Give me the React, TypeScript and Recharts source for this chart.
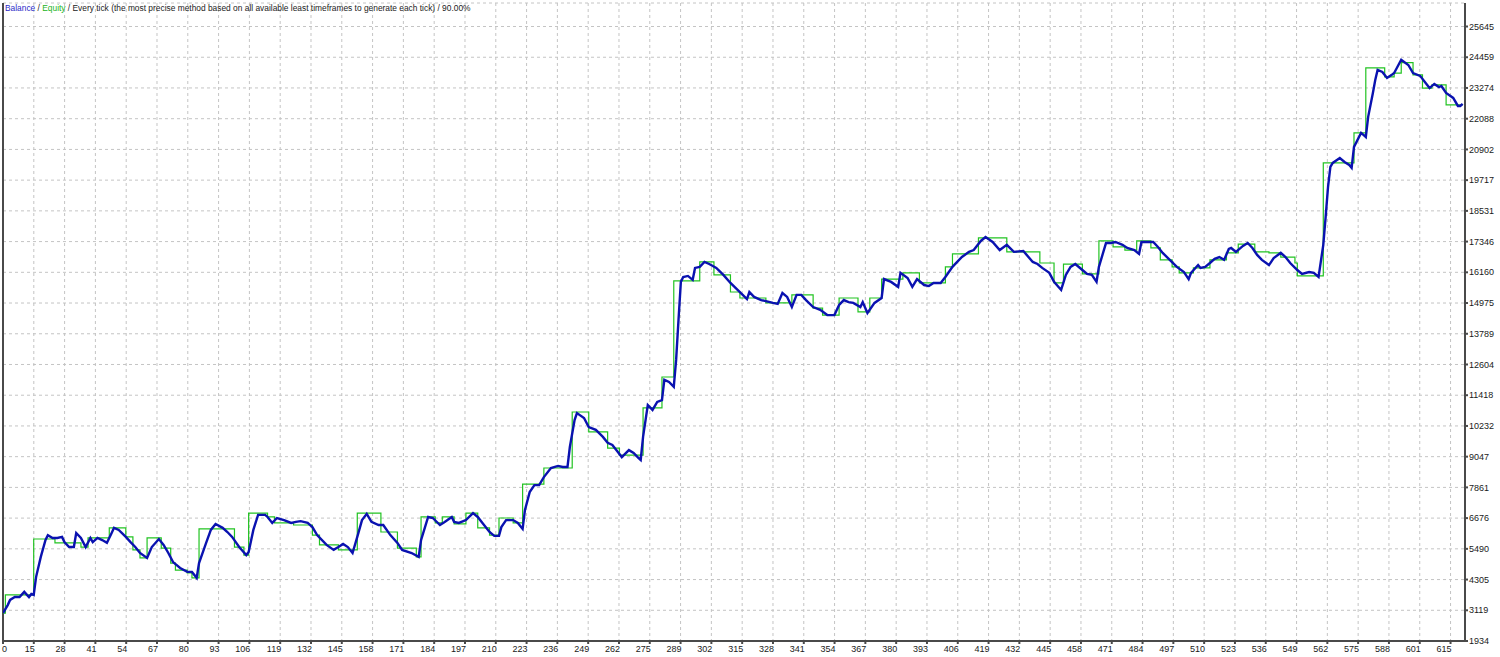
import { CartesianGrid, Line, LineChart, ReferenceLine, XAxis, YAxis } from 'recharts';

// blue line (Balance) per trade
const balanceTrades = [
  0, 2, 3, 5, 7, 9, 11, 12, 13, 14, 16, 18, 19, 21, 23, 25, 26, 28, 30, 31, 33, 35, 37, 38, 40, 42, 44, 46, 47, 49,
  52, 54, 56, 58, 61, 63, 66, 68, 70, 72, 75, 78, 80, 82, 83, 86, 88, 90, 93, 95, 97, 100, 103, 104, 106, 108, 111,
  112, 114, 116, 119, 122, 124, 126, 129, 131, 133, 137, 140, 142, 144, 146, 148, 150, 152, 154, 156, 159, 161, 164,
  167, 169, 173, 176, 177, 180, 182, 185, 187, 190, 191, 193, 196, 199, 201, 203, 206, 208, 210, 211, 213, 216, 218,
  219, 220, 221, 223, 225, 227, 229, 232, 235, 237, 239, 240, 242, 243, 246, 248, 251, 254, 256, 258, 260, 262, 265,
  267, 269, 270, 271, 273, 275, 277, 279, 280, 282, 284, 285, 286, 287, 288, 290, 292, 293, 295, 297, 299, 302, 305,
  308, 312, 315, 316, 318, 321, 323, 326, 328, 330, 332, 334, 336, 338, 340, 343, 346, 349, 352, 354, 356, 358, 360,
  363, 364, 366, 369, 372, 373, 376, 379, 380, 383, 385, 387, 390, 392, 394, 397, 399, 402, 404, 406, 409, 411, 414,
  416, 419, 422, 425, 428, 432, 436, 438, 440, 443, 445, 448, 450, 452, 454, 457, 459, 461, 463, 464, 467, 469, 471,
  474, 476, 479, 481, 482, 487, 489, 491, 494, 497, 500, 502, 503, 506, 507, 509, 511, 513, 515, 517, 519, 520, 522,
  525, 527, 529, 531, 533, 536, 538, 541, 543, 545, 548, 550, 553, 555, 557, 559, 560, 561, 562, 563, 566, 568, 570,
  571, 572, 575, 576, 577, 578, 580, 581, 582, 584, 586, 588, 589, 592, 595, 597, 600, 603, 604, 606, 608, 609, 611,
  614, 616, 617, 618,
];
const balanceValues = [
  3010, 3320, 3520, 3630, 3630, 3830, 3630, 3750, 3710, 4400, 5180, 5830, 6020, 5910, 5910, 5950, 5750, 5560, 5560,
  6100, 5910, 5560, 5910, 5750, 5910, 5830, 5720, 6100, 6300, 6220, 5950, 5750, 5560, 5330, 5140, 5560, 5870, 5640,
  5330, 4980, 4750, 4600, 4600, 4370, 4940, 5720, 6220, 6450, 6300, 6140, 5950, 5560, 5250, 5370, 6220, 6800, 6800,
  6720, 6490, 6680, 6600, 6490, 6530, 6560, 6490, 6330, 6020, 5640, 5450, 5560, 5680, 5560, 5330, 5950, 6600, 6840,
  6530, 6410, 6410, 6020, 5720, 5450, 5330, 5180, 5830, 6720, 6680, 6410, 6530, 6720, 6530, 6490, 6600, 6870, 6720,
  6490, 6140, 5990, 5990, 6330, 6600, 6600, 6490, 6370, 6260, 6990, 7680, 7950, 7950, 8260, 8610, 8690, 8650, 8650,
  9420, 10460, 10730, 10540, 10190, 10080, 9810, 9580, 9500, 9270, 9030, 9300, 9190, 9000, 8920, 9810, 11040, 10850,
  11160, 11230, 12010, 11930, 11740, 12780, 14320, 15790, 15980, 16020, 15870, 16330, 16370, 16560, 16480, 16330,
  16060, 15750, 15400, 15130, 15400, 15210, 15090, 15050, 14980, 14940, 15360, 15210, 14820, 15290, 15290, 15090,
  14820, 14710, 14510, 14510, 14900, 15090, 15010, 14980, 14820, 15010, 14590, 14980, 15170, 15900, 15790, 15600,
  16140, 15940, 15600, 15900, 15670, 15630, 15750, 15750, 15980, 16370, 16560, 16750, 16950, 17020, 17370, 17520,
  17330, 17020, 17220, 16950, 16980, 16560, 16480, 16330, 16140, 15790, 15480, 16060, 16370, 16480, 16250, 16100,
  16060, 15790, 16370, 17290, 17290, 17330, 17220, 17100, 17020, 16870, 17330, 17330, 17140, 16910, 16640, 16370,
  16170, 15900, 16140, 16440, 16330, 16370, 16520, 16680, 16750, 16640, 17060, 17100, 16950, 17180, 17290, 17100,
  16830, 16640, 16440, 16710, 16910, 16750, 16520, 16250, 16100, 16170, 16140, 15980, 17220, 18300, 19450, 20230,
  20380, 20570, 20420, 20300, 20190, 21000, 21540, 21460, 21380, 22160, 23080, 23580, 23970, 23890, 23660, 23780,
  23850, 24360, 24160, 23850, 23740, 23390, 23270, 23430, 23310, 23350, 23080, 22890, 22580, 22580, 22660,
];

// green stepped line (Equity)
const equityTrades = [
  0, 1, 13, 22, 33, 36, 45, 52, 55, 58, 61, 67, 71, 73, 78, 80, 83, 98, 102, 104, 112, 115, 123, 131, 134, 142, 150,
  160, 167, 175, 177, 183, 186, 191, 196, 201, 206, 210, 216, 220, 229, 241, 248, 256, 261, 271, 279, 284, 295, 301,
  308, 312, 323, 334, 343, 347, 354, 362, 367, 372, 381, 388, 399, 402, 413, 425, 439, 445, 449, 457, 464, 470, 475,
  480, 486, 490, 495, 498, 504, 511, 518, 523, 530, 536, 541, 547, 548, 559, 572, 577, 585, 589, 592, 597, 601, 605,
  611, 618,
];
const equityValues = [
  3010, 3710, 5870, 5720, 5560, 5910, 6300, 5950, 5450, 5140, 5910, 5520, 4940, 4670, 4560, 4370, 6260, 5560, 5250,
  6870, 6720, 6490, 6410, 6020, 5640, 5450, 6870, 6140, 5520, 5180, 6720, 6490, 6720, 6450, 6870, 6300, 6020, 6680,
  6490, 7990, 8610, 10770, 10000, 9380, 9110, 10930, 12120, 15830, 16560, 16060, 15400, 15170, 14980, 15290, 14780,
  14510, 15170, 14630, 15170, 15900, 16140, 15750, 16370, 16870, 17490, 16950, 16520, 15750, 16480, 16100, 17370,
  17140, 17020, 17370, 17100, 16640, 16370, 16140, 16330, 16640, 16910, 17250, 16950, 16910, 16750, 16520, 16020,
  20380, 21540, 24050, 23700, 23850, 24250, 23780, 23270, 23390, 22620, 22620,
];

const xTickLabels = [
  '0', '15', '28', '41', '54', '67', '80', '93', '106', '119', '132', '145', '158', '171', '184', '197', '210', '223',
  '236', '249', '262', '275', '289', '302', '315', '328', '341', '354', '367', '380', '393', '406', '419', '432', '445',
  '458', '471', '484', '497', '510', '523', '536', '549', '562', '575', '588', '601', '615',
];
const yTickLabels = [
  1934, 3119, 4305, 5490, 6676, 7861, 9047, 10232, 11418, 12604, 13789, 14975, 16160, 17346, 18531, 19717, 20902,
  22088, 23274, 24459, 25645,
];

const X_STEP = 13.04;
const X_MAX = 619;
const Y_MIN = 1934;
const Y_MAX = 26552;
const FONT = '"Liberation Sans", Arial, sans-serif';
const AXIS = '#4a4a4a';

const balanceData = balanceTrades.map((t, i) => ({ t, v: balanceValues[i] }));
const equityData = equityTrades.map((t, i) => ({ t, v: equityValues[i] }));
const xTicks = xTickLabels.map((_, k) => k * X_STEP);

const XTick = (props: any) => {
  const { x, y, payload } = props;
  const k = Math.round(payload.value / X_STEP);
  const first = k === 0;
  return (
    <text
      x={first ? x - 1 : x + 1}
      y={y + 8}
      textAnchor={first ? 'start' : 'end'}
      fontFamily={FONT}
      fontSize={9}
      fill="#1a1a1a"
    >
      {xTickLabels[k]}
    </text>
  );
};

const YTick = (props: any) => {
  const { x, y, payload } = props;
  return (
    <text x={x} y={y} dy="0.35em" textAnchor="start" fontFamily={FONT} fontSize={9} fill="#1a1a1a">
      {payload.value}
    </text>
  );
};

export default function App() {
  return (
    <div style={{ position: 'absolute', left: 0, top: 0, width: 1500, height: 657, background: '#fff' }}>
      <LineChart width={1500} height={657} margin={{ top: 3, right: 0, bottom: 0, left: 3 }}>
        <CartesianGrid stroke="#c4c4c4" strokeDasharray="3 3" />
        <XAxis
          type="number"
          dataKey="t"
          domain={[0, X_MAX]}
          ticks={xTicks}
          interval={0}
          height={16}
          tickSize={3}
          tickMargin={0}
          stroke={AXIS}
          strokeWidth={2}
          tick={<XTick />}
          allowDataOverflow
        />
        <YAxis
          orientation="right"
          domain={[Y_MIN, Y_MAX]}
          ticks={yTickLabels}
          interval={0}
          width={35}
          tickSize={3}
          tickMargin={1}
          stroke={AXIS}
          strokeWidth={2}
          tick={<YTick />}
          allowDataOverflow
        />
        <ReferenceLine x={0} stroke={AXIS} strokeWidth={2} />
        <Line
          data={equityData}
          dataKey="v"
          type="stepAfter"
          stroke="#22c322"
          strokeWidth={1.2}
          dot={false}
          activeDot={false}
          isAnimationActive={false}
        />
        <Line
          data={balanceData}
          dataKey="v"
          type="linear"
          stroke="#0a12b0"
          strokeWidth={2.4}
          dot={false}
          activeDot={false}
          isAnimationActive={false}
        />
      </LineChart>
      <div
        style={{
          position: 'absolute',
          left: 5,
          top: 3,
          fontFamily: FONT,
          fontSize: 8.4,
          lineHeight: '10px',
          color: '#222',
          whiteSpace: 'nowrap',
        }}
      >
        <span style={{ color: '#2a2ac8' }}>Balance</span> / <span style={{ color: '#22b422' }}>Equity</span> / Every
        tick (the most precise method based on all available least timeframes to generate each tick) / 90.00%
      </div>
    </div>
  );
}
